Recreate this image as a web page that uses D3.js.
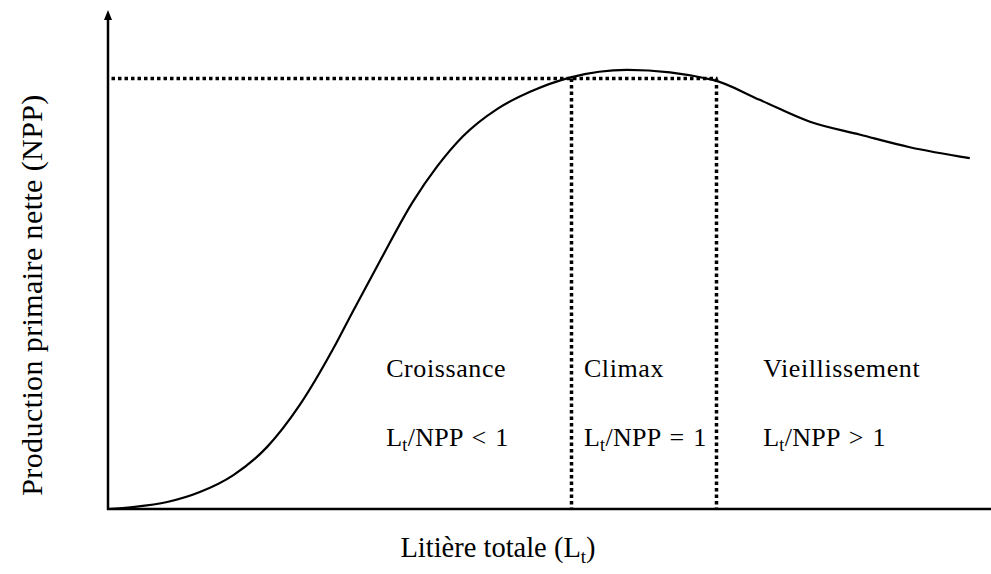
<!DOCTYPE html>
<head>
<script src="https://d3js.org/d3.v7.min.js"></script>
<meta charset="utf-8">
<style>
body { margin: 0; background: #fff; }
svg text { font-family: "Liberation Serif", "Times New Roman", Times, "DejaVu Serif", serif; }
</style>
</head>
<body>
<svg id="chart"></svg>
<script>

// chart parameters
var width = 991,
    height = 574;

// curve (arbitrary units 0..100)
let litter = [0, 2.8, 6.7, 10.4, 14.2, 18.0, 21.7, 25.5, 27.7, 30.8, 34.5, 37.3, 40.2, 44.1, 47.8, 52.4, 58.8, 68.5, 73.8, 79.5, 85.2, 90.8, 97.6];
let npp    = [0, 0.4, 1.4, 3.4, 6.8, 12.4, 20.8, 32.1, 39.5, 49.7, 61.5, 68.7, 74.7, 80.2, 83.6, 86.5, 88.0, 86.0, 82.0, 77.6, 75.0, 72.5, 70.3];

// phase limits and climax level
let phaseBounds = [52.4, 68.8];
let climaxLevel = 86.4;

let phaseNames  = ["Croissance", "Climax", "Vieillissement"];
let phaseRatios = ["/NPP < 1", "/NPP = 1", "/NPP > 1"];
let phaseLabelX = [31.5, 53.9, 74.2];

var svg = d3.select("#chart")
    .attr("width", width)
    .attr("height", height);

let x = d3.scaleLinear().domain([0, 100]).range([108, 991]);
let y = d3.scaleLinear().domain([0, 100]).range([509, 10]);
let crisp = v => Math.round(v) + 0.5;

// axes
svg.append("line")
    .attr("x1", x(0)).attr("x2", x(0))
    .attr("y1", y(0) + 1).attr("y2", y(100) + 6)
    .attr("stroke", "#000").attr("stroke-width", 2.5);

// arrow head on the y axis
svg.append("path")
    .attr("d", `M${x(0)},${y(100)} L${x(0) + 4},${y(100) + 10} L${x(0) - 4},${y(100) + 10} Z`)
    .attr("fill", "#000");

svg.append("line")
    .attr("x1", x(0) - 1).attr("x2", x(100))
    .attr("y1", y(0)).attr("y2", y(0))
    .attr("stroke", "#000").attr("stroke-width", 2.5);

// dotted guides
function dotted(x1, y1, x2, y2) {
    svg.append("line")
        .attr("x1", crisp(x1)).attr("y1", crisp(y1)).attr("x2", crisp(x2)).attr("y2", crisp(y2))
        .attr("stroke", "#000")
        .attr("stroke-width", 3.5)
        .attr("stroke-dasharray", "3.5,3");
}
dotted(x(0) + 3, y(climaxLevel), x(phaseBounds[1]) + 1.5, y(climaxLevel));
phaseBounds.forEach(b => dotted(x(b), y(climaxLevel), x(b), y(0)));

// curve
let pts = litter.map((d, i) => [d, npp[i]]);
svg.append("path")
    .datum(pts)
    .attr("fill", "none")
    .attr("stroke", "#000")
    .attr("stroke-width", 2.2)
    .attr("d", d3.line().x(d => x(d[0])).y(d => y(d[1])).curve(d3.curveMonotoneX));

// phase labels
phaseNames.forEach((name, i) => {
    svg.append("text")
        .attr("x", x(phaseLabelX[i])).attr("y", 377)
        .attr("font-size", 26)
        .attr("letter-spacing", 0.6)
        .text(name);
    let t = svg.append("text")
        .attr("x", x(phaseLabelX[i])).attr("y", 446)
        .attr("font-size", 26)
        .attr("letter-spacing", 0.3)
        .attr("word-spacing", 2);
    t.append("tspan").text("L");
    t.append("tspan").attr("font-size", 18).attr("dy", 5).text("t");
    t.append("tspan").attr("dy", -5).text(phaseRatios[i]);
});

// axis titles
let xt = svg.append("text")
    .attr("x", 498).attr("y", 557)
    .attr("text-anchor", "middle")
    .attr("font-size", 28.5);
xt.append("tspan").text("Litière totale (L");
xt.append("tspan").attr("font-size", 19).attr("dy", 6).text("t");
xt.append("tspan").attr("dy", -6).text(")");

svg.append("text")
    .attr("transform", "translate(42,295) rotate(-90)")
    .attr("text-anchor", "middle")
    .attr("font-size", 30)
    .attr("letter-spacing", 0.4)
    .text("Production primaire nette (NPP)");

</script>
</body>
